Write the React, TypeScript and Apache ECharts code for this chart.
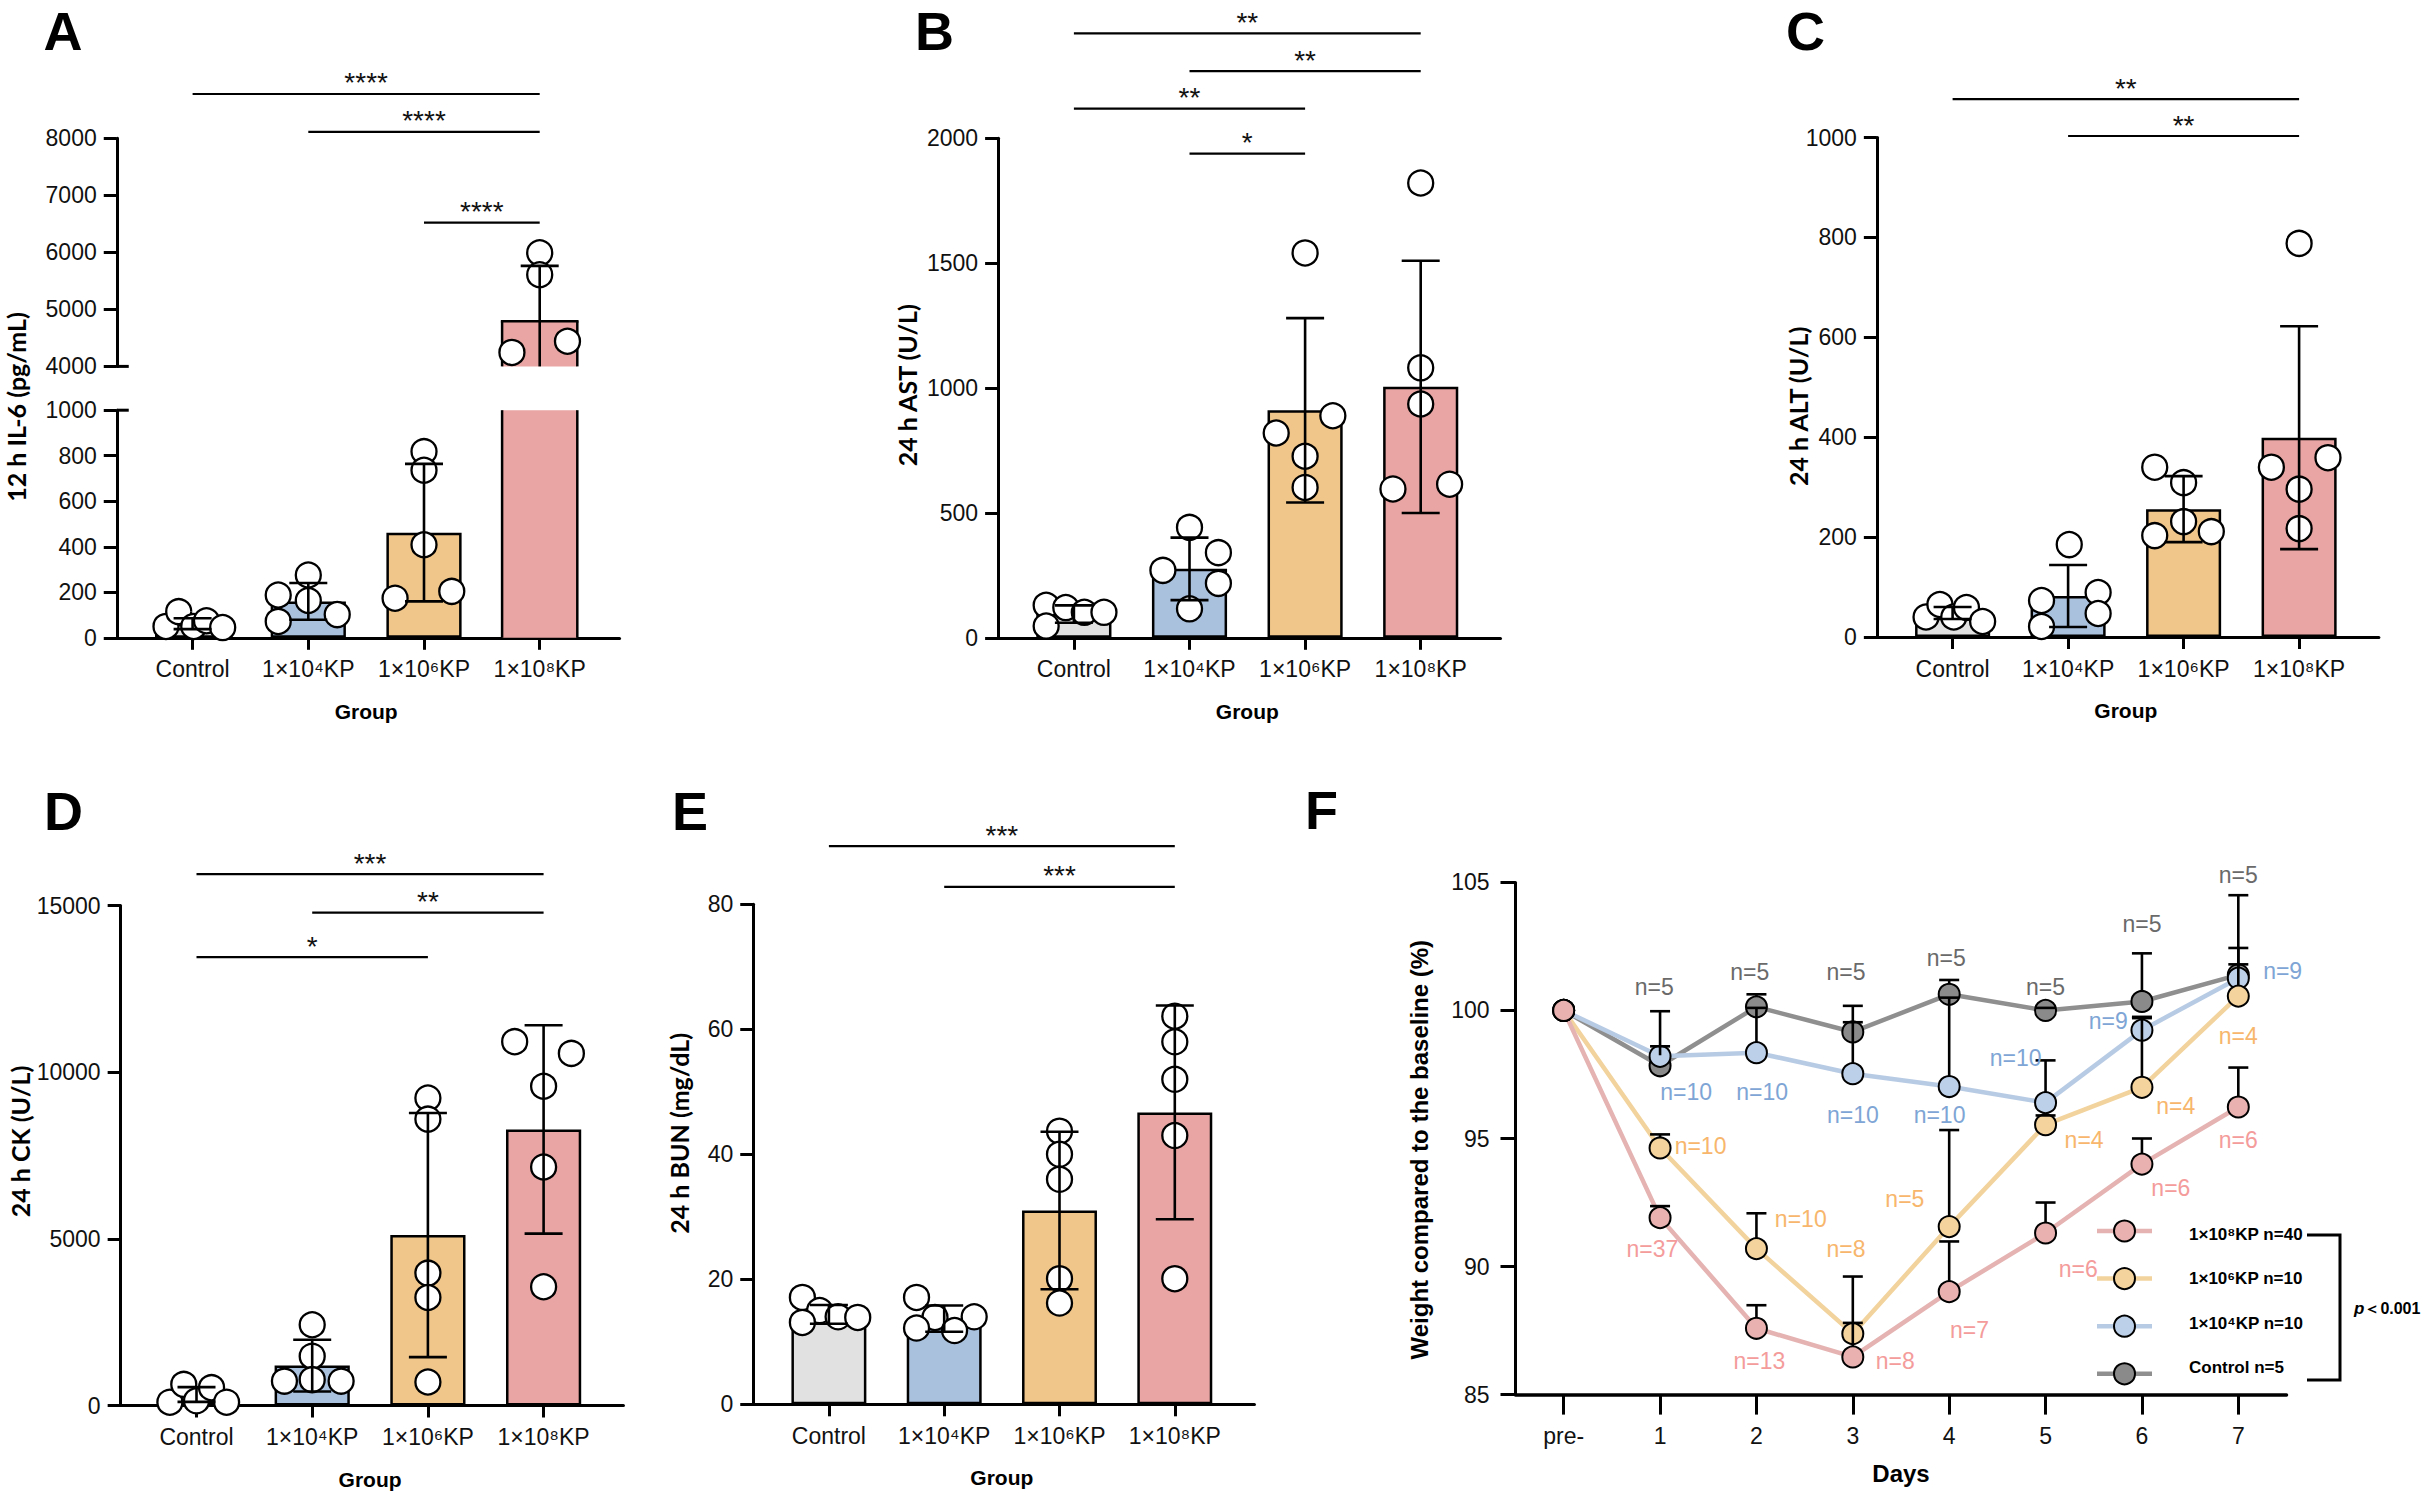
import React, { useEffect, useRef } from "react";
import * as echarts from "echarts";

// ---------- shared ----------
const GROUPS = ["Control", "1×10⁴KP", "1×10⁶KP", "1×10⁸KP"];
const BAR_COLORS = ["#E1E1E1", "#AAC1DE", "#F0C68A", "#E8A5A3"];

// ---------- A : 12 h IL-6 ----------
const IL6_MEAN = [62, 160, 462, 4790];
const IL6_SD = [24, 81, 302, 973];
const IL6_POINTS = [[50, 115, 50, 75, 45], [188, 276, 164, 102, 72], [818, 736, 409, 174, 204], [5992, 5608, 4245, 4441]];
const IL6_JITTER = [[-0.23, -0.12, 0.01, 0.12, 0.26], [-0.26, 0, 0, 0.25, -0.26], [0, 0, 0, -0.25, 0.24], [0, 0, -0.24, 0.24]];
const IL6_SIG = [[0, 3, 8777], [1, 3, 8114], [2, 3, 6523]];
const IL6_SIG_TEXT = ["****", "****", "****"];

// ---------- B : 24 h AST ----------
const AST_MEAN = [95, 276, 911, 1005];
const AST_SD = [35, 125, 369, 505];
const AST_POINTS = [[130, 121, 102, 102, 47], [442, 341, 270, 218, 116], [1541, 889, 820, 727, 602], [1821, 1081, 936, 596, 615]];
const AST_JITTER = [[-0.24, -0.07, 0.09, 0.26, -0.24], [0, 0.25, -0.23, 0.25, 0], [0, 0.24, -0.25, 0, 0], [0, 0, 0, -0.24, 0.25]];
const AST_SIG = [[0, 3, 2420], [1, 3, 2269], [0, 2, 2119], [1, 2, 1939]];
const AST_SIG_TEXT = ["**", "**", "**", "*"];

// ---------- C : 24 h ALT ----------
const ALT_MEAN = [48, 82, 256, 399];
const ALT_SD = [12, 62, 66, 223];
const ALT_POINTS = [[40, 65, 40, 59, 31], [185, 73, 89, 47, 21], [340, 309, 231, 203, 211], [788, 340, 359, 296, 217]];
const ALT_JITTER = [[-0.23, -0.11, 0.01, 0.12, 0.26], [0.01, -0.23, 0.26, 0.26, -0.23], [-0.25, 0, 0, -0.25, 0.24], [0, -0.24, 0.25, 0, 0]];
const ALT_SIG = [[0, 3, 1077], [1, 3, 1003]];
const ALT_SIG_TEXT = ["**", "**"];

// ---------- D : 24 h CK ----------
const CK_MEAN = [330, 1197, 5113, 8282];
const CK_SD = [220, 775, 3662, 3126];
const CK_POINTS = [[99, 634, 141, 535, 99], [2422, 1479, 732, 775, 732], [9225, 8592, 3972, 3239, 704], [10915, 10563, 9577, 7155, 3563]];
const CK_JITTER = [[-0.23, -0.11, 0, 0.13, 0.26], [0, 0, -0.24, 0, 0.25], [0, 0, 0, 0, 0], [-0.25, 0.24, 0, 0, 0]];
const CK_SIG = [[0, 3, 15942], [1, 3, 14787], [0, 2, 13449]];
const CK_SIG_TEXT = ["***", "**", "*"];

// ---------- E : 24 h BUN ----------
const BUN_MEAN = [14.4, 13.7, 31.0, 46.7];
const BUN_SD = [1.5, 2.1, 12.6, 17.1];
const BUN_POINTS = [[17.1, 15.0, 14.0, 13.9, 13.1], [17.1, 13.9, 14.0, 12.2, 11.8], [43.7, 40.0, 36.0, 20.1, 16.2], [62.1, 58.0, 52.0, 43.0, 20.1]];
const BUN_JITTER = [[-0.23, -0.08, 0.08, 0.25, -0.23], [-0.24, -0.08, 0.26, -0.24, 0.09], [0, 0, 0, 0, 0], [0, 0, 0, 0, 0]];
const BUN_SIG = [[0, 3, 89.3], [1, 3, 82.8]];
const BUN_SIG_TEXT = ["***", "***"];

// ---------- F : weight ----------
const DAYS = ["pre-", "1", "2", "3", "4", "5", "6", "7"];
const W_NAMES = ["Control n=5", "1×10⁴KP n=10", "1×10⁶KP n=10", "1×10⁸KP n=40"];
const W_CONTROL = [100, 97.84, 100.14, 99.16, 100.63, 100.0, 100.35, 101.39];
const W_KP4 = [100, 98.21, 98.35, 97.53, 97.03, 96.4, 99.23, 101.26];
const W_KP6 = [100, 94.63, 90.7, 87.38, 91.56, 95.54, 97.0, 100.56];
const W_KP8 = [100, 91.91, 87.59, 86.47, 89.02, 91.31, 94.0, 96.23];
const UP_CONTROL = [null, 99.97, 100.63, 100.18, 101.19, 100.1, 102.23, 104.5];
const UP_KP4 = [null, 98.6, 100.1, 99.54, 100.5, 98.05, 99.75, 102.44];
const UP_KP6 = [null, 95.16, 92.08, 89.61, 95.33, 95.9, 99.7, 101.8];
const UP_KP8 = [null, 92.36, 88.49, 87.8, 90.98, 92.5, 95.0, 97.77];
const N_POS_CONTROL = [[1, 100.91, -0.06], [2, 101.49, -0.07], [3, 101.49, -0.07], [4, 102.06, -0.03], [5, 100.91, 0], [6, 103.39, 0], [7, 105.3, 0]];
const N_TXT_CONTROL = ["n=5", "n=5", "n=5", "n=5", "n=5", "n=5", "n=5"];
const N_POS_KP4 = [[1, 96.82, 0.27], [2, 96.82, 0.06], [3, 95.93, 0], [4, 95.93, -0.1], [5, 98.15, -0.31], [6, 99.58, -0.35], [7, 101.53, 0.46]];
const N_TXT_KP4 = ["n=10", "n=10", "n=10", "n=10", "n=10", "n=9", "n=9"];
const N_POS_KP6 = [[1, 94.7, 0.42], [2, 91.84, 0.46], [3, 90.7, -0.07], [4, 92.64, -0.46], [5, 94.95, 0.4], [6, 96.26, 0.35], [7, 99.02, 0]];
const N_TXT_KP6 = ["n=10", "n=10", "n=8", "n=5", "n=4", "n=4", "n=4"];
const N_POS_KP8 = [[1, 90.7, -0.08], [2, 86.3, 0.03], [3, 86.3, 0.44], [4, 87.52, 0.21], [5, 89.89, 0.34], [6, 93.05, 0.3], [7, 94.95, 0]];
const N_TXT_KP8 = ["n=37", "n=13", "n=8", "n=7", "n=6", "n=6", "n=6"];

const W_LINE_COLORS = ["#8F8F8F", "#B8CBE4", "#F2D39D", "#E4B3B2"];
const W_FILL_COLORS = ["#8A8A8A", "#BDD0E9", "#F4D39C", "#E9B2B1"];
const W_LABEL_COLORS = ["#6A6A6A", "#7EA5D5", "#F7B66C", "#F49C9B"];

const FONT = '"Liberation Sans", Arial, sans-serif';
const TITLE_FONT = 'Lato, "Liberation Sans", sans-serif';

type Sec = {
  left: number; band: number; top: number; height: number;
  min: number; max: number; interval: number; showX: boolean;
  mean: number[]; sd: number[]; points: number[][]; jitter: number[][];
  sig?: number[][]; sigText?: string[]; brokenBar?: number; breakMark?: number;
};

function buildOption() {
  const grid: any[] = [];
  const xAxis: any[] = [];
  const yAxis: any[] = [];
  const series: any[] = [];
  const graphic: any[] = [];
  const tickLabel = { fontFamily: FONT, fontSize: 23, color: "#111" };

  function section(c: Sec) {
    const fg = grid.length;
    grid.push({ left: c.left - 18, top: c.top, width: c.band * 4 + 40, height: c.height });
    const dg = grid.length;
    grid.push({ left: c.left, top: c.top, width: c.band * 4, height: c.height });
    const fx = xAxis.length;
    xAxis.push({
      type: "value", gridIndex: fg, min: 0, max: 1, show: c.showX,
      axisLine: { show: true, onZero: false, lineStyle: { color: "#000", width: 3 } },
      axisTick: { show: false }, axisLabel: { show: false }, splitLine: { show: false },
    });
    const fy = yAxis.length;
    yAxis.push({
      type: "value", gridIndex: fg, min: c.min, max: c.max, interval: c.interval,
      axisLine: { show: true, onZero: false, lineStyle: { color: "#000", width: 3 } },
      axisTick: { show: true, length: 13, lineStyle: { color: "#000", width: 3 } },
      axisLabel: { ...tickLabel, margin: 20, formatter: (v: number) => String(v) },
      splitLine: { show: false },
    });
    const dx = xAxis.length;
    xAxis.push({
      type: "category", gridIndex: dg, data: GROUPS, show: c.showX,
      axisLine: { show: false },
      axisTick: { show: true, alignWithLabel: true, length: 12, lineStyle: { color: "#000", width: 3 } },
      axisLabel: { ...tickLabel, margin: 20, interval: 0 },
      name: "Group", nameLocation: "middle", nameGap: 63,
      nameTextStyle: { fontFamily: FONT, fontWeight: "bold", fontSize: 21, color: "#000" },
    });
    const dy = yAxis.length;
    yAxis.push({ type: "value", gridIndex: dg, min: c.min, max: c.max, interval: c.interval, show: false });

    // bars
    series.push({
      type: "bar", xAxisIndex: dx, yAxisIndex: dy, barWidth: "65%", z: 2,
      data: c.mean.map((m, i) => {
        if (c.brokenBar !== undefined && i !== c.brokenBar && c.min > 0) return "-";
        return {
          value: m,
          itemStyle: {
            color: BAR_COLORS[i], borderColor: "#000",
            borderWidth: c.brokenBar === i ? 0 : 2.5,
          },
        };
      }),
    });
    // outline for a broken bar (open at the axis break)
    if (c.brokenBar !== undefined) {
      series.push({
        type: "custom", xAxisIndex: dx, yAxisIndex: dy, z: 3,
        data: [[c.brokenBar, c.mean[c.brokenBar]]],
        renderItem: (params: any, api: any) => {
          const i = api.value(0), v = api.value(1);
          const lo = Math.max(0, c.min), hi = Math.min(v, c.max);
          if (hi <= lo) return null;
          const bw = api.size([1, 0])[0] * 0.65;
          const p0 = api.coord([i, lo]), p1 = api.coord([i, hi]);
          const xl = p0[0] - bw / 2, xr = p0[0] + bw / 2;
          const st = { stroke: "#000", lineWidth: 2.5 };
          const ch: any[] = [
            { type: "line", shape: { x1: xl, y1: p0[1], x2: xl, y2: p1[1] }, style: st },
            { type: "line", shape: { x1: xr, y1: p0[1], x2: xr, y2: p1[1] }, style: st },
          ];
          if (v <= c.max) ch.push({ type: "line", shape: { x1: xl - 1.25, y1: p1[1], x2: xr + 1.25, y2: p1[1] }, style: st });
          return { type: "group", children: ch };
        },
      });
    }
    // points
    const pts: number[][] = [];
    c.points.forEach((arr, i) => arr.forEach((v, k) => pts.push([i, v, c.jitter[i][k]])));
    series.push({
      type: "custom", xAxisIndex: dx, yAxisIndex: dy, z: 4, data: pts,
      renderItem: (params: any, api: any) => {
        const v = api.value(1);
        if (v < c.min || v > c.max) return null;
        const p = api.coord([api.value(0), v]);
        const bw = api.size([1, 0])[0];
        return {
          type: "circle",
          shape: { cx: p[0] + api.value(2) * bw, cy: p[1], r: 12.5 },
          style: { fill: "#fff", stroke: "#000", lineWidth: 2.3 },
        };
      },
    });
    // error bars (mean ± SD)
    series.push({
      type: "custom", xAxisIndex: dx, yAxisIndex: dy, z: 5,
      data: c.mean.map((m, i) => [i, m, c.sd[i]]),
      renderItem: (params: any, api: any) => {
        const i = api.value(0), m = api.value(1), s = api.value(2);
        const lo = m - s, hi = m + s;
        const a = Math.max(lo, c.min), b = Math.min(hi, c.max);
        if (a >= b) return null;
        const pa = api.coord([i, a]), pb = api.coord([i, b]);
        const cw = 19;
        const st = { stroke: "#000", lineWidth: 2.6 };
        const ch: any[] = [{ type: "line", shape: { x1: pa[0], y1: pa[1], x2: pb[0], y2: pb[1] }, style: st }];
        if (lo >= c.min) ch.push({ type: "line", shape: { x1: pa[0] - cw, y1: pa[1], x2: pa[0] + cw, y2: pa[1] }, style: st });
        if (hi <= c.max) ch.push({ type: "line", shape: { x1: pb[0] - cw, y1: pb[1], x2: pb[0] + cw, y2: pb[1] }, style: st });
        return { type: "group", children: ch };
      },
    });
    // significance lines
    if (c.sig) {
      const txt = c.sigText || [];
      series.push({
        type: "custom", xAxisIndex: dx, yAxisIndex: dy, z: 5, clip: false,
        data: c.sig,
        renderItem: (params: any, api: any) => {
          const y = api.value(2);
          const p1 = api.coord([api.value(0), y]);
          const p2 = api.coord([api.value(1), y]);
          return {
            type: "group",
            children: [
              { type: "line", shape: { x1: p1[0], y1: p1[1], x2: p2[0], y2: p2[1] }, style: { stroke: "#000", lineWidth: 2.2 } },
              {
                type: "text", x: (p1[0] + p2[0]) / 2, y: p1[1] - 11,
                style: { text: txt[params.dataIndex], fontFamily: FONT, fontSize: 28, lineHeight: 20, fill: "#111", align: "center", verticalAlign: "middle" },
              },
            ],
          };
        },
      });
    }
    // axis-break end mark
    if (c.breakMark !== undefined) {
      series.push({
        type: "custom", xAxisIndex: fx, yAxisIndex: fy, z: 6, clip: false,
        data: [[0, c.breakMark]],
        renderItem: (params: any, api: any) => {
          const p = api.coord([0, api.value(1)]);
          return { type: "line", shape: { x1: p[0], y1: p[1], x2: p[0] + 12, y2: p[1] }, style: { stroke: "#000", lineWidth: 3 } };
        },
      });
    }
  }

  // A (broken axis)
  section({ left: 134.75, band: 115.7, top: 138.3, height: 228.1, min: 4000, max: 8000, interval: 1000, showX: false,
    mean: IL6_MEAN, sd: IL6_SD, points: IL6_POINTS, jitter: IL6_JITTER, sig: IL6_SIG, sigText: IL6_SIG_TEXT, brokenBar: 3, breakMark: 4000 });
  section({ left: 134.75, band: 115.7, top: 410.2, height: 227.6, min: 0, max: 1000, interval: 200, showX: true,
    mean: IL6_MEAN, sd: IL6_SD, points: IL6_POINTS, jitter: IL6_JITTER, brokenBar: 3, breakMark: 1000 });
  // B
  section({ left: 1016.1, band: 115.6, top: 138.3, height: 499.5, min: 0, max: 2000, interval: 500, showX: true,
    mean: AST_MEAN, sd: AST_SD, points: AST_POINTS, jitter: AST_JITTER, sig: AST_SIG, sigText: AST_SIG_TEXT });
  // C
  section({ left: 1894.85, band: 115.5, top: 137.5, height: 499.5, min: 0, max: 1000, interval: 200, showX: true,
    mean: ALT_MEAN, sd: ALT_SD, points: ALT_POINTS, jitter: ALT_JITTER, sig: ALT_SIG, sigText: ALT_SIG_TEXT });
  // D
  section({ left: 138.65, band: 115.7, top: 905.5, height: 500, min: 0, max: 15000, interval: 5000, showX: true,
    mean: CK_MEAN, sd: CK_SD, points: CK_POINTS, jitter: CK_JITTER, sig: CK_SIG, sigText: CK_SIG_TEXT });
  // E
  section({ left: 771.25, band: 115.3, top: 904.3, height: 500, min: 0, max: 80, interval: 20, showX: true,
    mean: BUN_MEAN, sd: BUN_SD, points: BUN_POINTS, jitter: BUN_JITTER, sig: BUN_SIG, sigText: BUN_SIG_TEXT });

  // F
  const fg = grid.length;
  grid.push({ left: 1515.5, top: 882.4, width: 771, height: 512.2 });
  const fxi = xAxis.length;
  xAxis.push({
    type: "category", gridIndex: fg, data: DAYS, boundaryGap: true,
    axisLine: { show: true, lineStyle: { color: "#000", width: 3.5 } },
    axisTick: { show: true, alignWithLabel: true, length: 20, lineStyle: { color: "#000", width: 3 } },
    axisLabel: { ...tickLabel, margin: 30, interval: 0 },
    name: "Days", nameLocation: "middle", nameGap: 67,
    nameTextStyle: { fontFamily: FONT, fontWeight: "bold", fontSize: 24, color: "#000" },
  });
  const fyi = yAxis.length;
  yAxis.push({
    type: "value", gridIndex: fg, min: 85, max: 105, interval: 5,
    axisLine: { show: true, lineStyle: { color: "#000", width: 3 } },
    axisTick: { show: true, length: 15, lineStyle: { color: "#000", width: 3 } },
    axisLabel: { ...tickLabel, margin: 26 },
    splitLine: { show: false },
  });
  const W = [W_CONTROL, W_KP4, W_KP6, W_KP8];
  const UP = [UP_CONTROL, UP_KP4, UP_KP6, UP_KP8];
  const NP = [N_POS_CONTROL, N_POS_KP4, N_POS_KP6, N_POS_KP8];
  const NT = [N_TXT_CONTROL, N_TXT_KP4, N_TXT_KP6, N_TXT_KP8];
  W.forEach((vals, g) => {
    series.push({
      type: "line", name: W_NAMES[g], xAxisIndex: fxi, yAxisIndex: fyi, data: vals, z: 3,
      symbol: "circle", symbolSize: 21, showAllSymbol: true,
      lineStyle: { color: W_LINE_COLORS[g], width: 4.5 },
      itemStyle: { color: W_FILL_COLORS[g], borderColor: "#000", borderWidth: 2 },
    });
  });
  W.forEach((vals, g) => {
    const d: number[][] = [];
    UP[g].forEach((u, i) => { if (u !== null) d.push([i, vals[i], u as number]); });
    series.push({
      type: "custom", xAxisIndex: fxi, yAxisIndex: fyi, z: 6, data: d,
      renderItem: (params: any, api: any) => {
        const p0 = api.coord([api.value(0), api.value(1)]);
        const p1 = api.coord([api.value(0), api.value(2)]);
        const st = { stroke: "#000", lineWidth: 2.6 };
        const yStart = Math.max(p0[1] - 10.5, p1[1]);
        return {
          type: "group",
          children: [
            { type: "line", shape: { x1: p0[0], y1: yStart, x2: p1[0], y2: p1[1] }, style: st },
            { type: "line", shape: { x1: p1[0] - 10, y1: p1[1], x2: p1[0] + 10, y2: p1[1] }, style: st },
          ],
        };
      },
    });
  });
  NP.forEach((pos, g) => {
    series.push({
      type: "custom", xAxisIndex: fxi, yAxisIndex: fyi, z: 7, data: pos, clip: false,
      renderItem: (params: any, api: any) => {
        const p = api.coord([api.value(0), api.value(1)]);
        const bw = api.size([1, 0])[0];
        return {
          type: "text", x: p[0] + api.value(2) * bw, y: p[1],
          style: { text: NT[g][params.dataIndex], fontFamily: FONT, fontSize: 23, fill: W_LABEL_COLORS[g], align: "center", verticalAlign: "middle" },
        };
      },
    });
  });

  // legend icons (line + marker), drawn at the legend rows
  const LEG_TOP = 1218, LEG_H = 26, LEG_GAP = 21.6, LEG_LEFT = 2097, LEG_W = 55;
  [3, 2, 1, 0].forEach((g, k) => {
    const cy = LEG_TOP + LEG_H / 2 + k * (LEG_H + LEG_GAP);
    graphic.push({ type: "line", shape: { x1: LEG_LEFT, y1: cy, x2: LEG_LEFT + LEG_W, y2: cy }, style: { stroke: W_LINE_COLORS[g], lineWidth: 4.5 } });
    graphic.push({ type: "circle", shape: { cx: LEG_LEFT + LEG_W / 2, cy, r: 10.5 }, style: { fill: W_FILL_COLORS[g], stroke: "#000", lineWidth: 2 } });
  });

  // letters
  const LETTERS: [string, number, number][] = [["A", 43.5, 31], ["B", 915, 31], ["C", 1786, 31], ["D", 44, 810.5], ["E", 672, 810.5], ["F", 1305, 810]];
  LETTERS.forEach(([t, x, y]) => graphic.push({
    type: "text", x, y, style: { text: t, fontFamily: FONT, fontWeight: "bold", fontSize: 54, lineHeight: 44, fill: "#000", align: "left", verticalAlign: "middle" },
  }));
  const YT: [string, number, number][] = [["12 h IL-6 (pg/mL)", 15.9, 407], ["24 h AST (U/L)", 907.4, 385.2], ["24 h ALT (U/L)", 1797.6, 406.3], ["24 h CK (U/L)", 19.8, 1141.5], ["24 h BUN (mg/dL)", 679.4, 1133.3]];
  YT.forEach(([t, x, y]) => graphic.push({
    type: "text", x, y, rotation: Math.PI / 2,
    style: { text: t, fontFamily: TITLE_FONT, fontWeight: "bold", fontSize: 25, fill: "#000", align: "center", verticalAlign: "middle" },
  }));
  graphic.push({
    type: "text", x: 1419.6, y: 1149.7, rotation: Math.PI / 2,
    style: { text: "Weight compared to the baseline (%)", fontFamily: FONT, fontWeight: "bold", fontSize: 24, fill: "#000", align: "center", verticalAlign: "middle" },
  });
  graphic.push({
    type: "polyline", shape: { points: [[2307, 1235], [2340, 1235], [2340, 1380], [2307, 1380]] },
    style: { stroke: "#000", lineWidth: 3, fill: null },
  });
  graphic.push({
    type: "text", x: 2354, y: 1308,
    style: {
      text: "{i|p}{n|＜0.001}", align: "left", verticalAlign: "middle",
      rich: {
        i: { fontFamily: FONT, fontStyle: "italic", fontWeight: "bold", fontSize: 17, fill: "#000", color: "#000" },
        n: { fontFamily: FONT, fontWeight: "bold", fontSize: 16, fill: "#000", color: "#000" },
      },
    },
  });

  return {
    animation: false,
    backgroundColor: "#fff",
    grid, xAxis, yAxis, series, graphic,
    legend: {
      data: [W_NAMES[3], W_NAMES[2], W_NAMES[1], W_NAMES[0]],
      orient: "vertical", left: LEG_LEFT, top: LEG_TOP,
      itemWidth: LEG_W, itemHeight: LEG_H, itemGap: LEG_GAP, selectedMode: false,
      itemStyle: { opacity: 0 }, lineStyle: { opacity: 0 },
      textStyle: { fontFamily: FONT, fontWeight: "bold", fontSize: 17, color: "#000", padding: [0, 0, 0, 26] },
    },
  };
}

export default function App() {
  const ref = useRef<HTMLDivElement>(null);
  useEffect(() => {
    const chart = echarts.init(ref.current as HTMLDivElement, null, { renderer: "svg" });
    chart.setOption(buildOption() as any);
    return () => chart.dispose();
  }, []);
  return <div ref={ref} style={{ position: "fixed", left: 0, top: 0, width: 2432, height: 1496, background: "#fff" }} />;
}
